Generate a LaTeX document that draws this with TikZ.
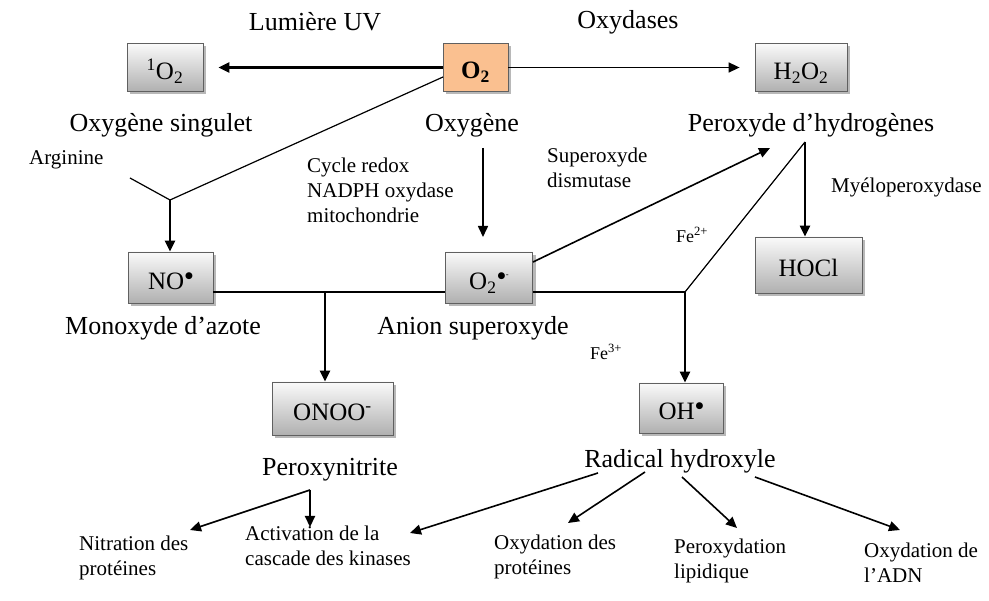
\documentclass[tikz,border=0pt]{standalone}
\usepackage{fontspec}
\setmainfont{Liberation Serif}
\newfontfamily\symfont{DejaVu Sans}
\usetikzlibrary{arrows.meta,shadows}
\definecolor{orangebox}{HTML}{FAC090}
\newcommand{\rad}{\kern1pt\raisebox{11pt}{\symfont\fontsize{9}{9}\selectfont ●}}
\newcommand{\radm}{\kern1pt\raisebox{11pt}{\symfont\fontsize{9}{9}\selectfont ●\kern0.5pt\raisebox{0.5pt}{\fontsize{8}{8}\selectfont -}}}
\begin{document}
\begin{tikzpicture}[x=1pt,y=-1pt,
  box/.style={draw=gray!75!black, line width=0.8pt, top color=gray!4, bottom color=gray!62,
    drop shadow={shadow xshift=3pt, shadow yshift=-3pt, fill=gray!70, opacity=0.8},
    inner sep=0pt, text height=24pt, text depth=0pt, font=\fontsize{25}{28}\selectfont},
  obox/.style={draw=gray!75!black, line width=0.8pt, fill=orangebox,
    drop shadow={shadow xshift=3pt, shadow yshift=-3pt, fill=gray!70, opacity=0.8},
    inner sep=0pt, text height=23pt, text depth=0pt, font=\fontsize{25}{28}\selectfont\bfseries},
  big/.style={font=\fontsize{26}{30}\selectfont, inner sep=0pt},
  small/.style={font=\fontsize{21}{25}\selectfont, inner sep=0pt, align=left},
  tiny/.style={font=\fontsize{18}{20}\selectfont, inner sep=0pt},
  thickarrow/.style={line width=2.2pt, -{Triangle[length=11pt,width=10pt]}},
  thinarrow/.style={line width=1.6pt, -{Triangle[length=11pt,width=10pt]}},
  thinline/.style={line width=1.2pt}
]
\useasboundingbox (0,0) rectangle (989,601);

% boxes
\node[box, minimum width=76pt, minimum height=48pt] (o1) at (165,67.5) {\textsuperscript{1}O\textsubscript{2}};
\node[obox, minimum width=65pt, minimum height=48pt] (o2) at (475.5,67.5) {O\textsubscript{2}};
\node[box, minimum width=92pt, minimum height=48pt] (h2o2) at (801,67.5) {H\textsubscript{2}O\textsubscript{2}};
\node[box, minimum width=85pt, minimum height=51pt] (no) at (170.5,277.5) {NO\rad};
\node[box, minimum width=87pt, minimum height=51pt] (sup) at (489,277.5) {O\textsubscript{2}\radm};
\node[box, minimum width=107pt, minimum height=56pt] (hocl) at (808.5,265) {HOCl};
\node[box, minimum width=121pt, minimum height=53pt] (onoo) at (332.5,408.5) {ONOO\textsuperscript{-}};
\node[box, minimum width=84pt, minimum height=50pt] (oh) at (681,408) {OH\rad};

% labels
\node[big] (lbUV) at (315,22) {Lumière UV};
\node[big] (lbOxd) at (628,22) {Oxydases};
\node[big] (lbSing) at (161,125) {Oxygène singulet};
\node[big] (lbOxy) at (472,125) {Oxygène};
\node[big] (lbPer) at (811,125) {Peroxyde d’hydrogènes};
\node[small, anchor=west] (lbArg) at (29,160) {Arginine};
\node[small, anchor=north west] (lbCyc) at (307,158) {Cycle redox\\NADPH oxydase\\mitochondrie};
\node[small, anchor=north west] (lbSod) at (547,148) {Superoxyde\\dismutase};
\node[small, anchor=west] (lbMye) at (831,187) {Myéloperoxydase};
\node[tiny] (lbFe2) at (692,235) {Fe\textsuperscript{2+}};
\node[tiny] (lbFe3) at (606,352) {Fe\textsuperscript{3+}};
\node[big] (lbMon) at (163,328) {Monoxyde d’azote};
\node[big] (lbAni) at (473,328) {Anion superoxyde};
\node[big] (lbPxn) at (330,470) {Peroxynitrite};
\node[big] (lbRad) at (680,461) {Radical hydroxyle};
\node[small, anchor=north west] (lbNit) at (79,536) {Nitration des\\protéines};
\node[small, anchor=north west] (lbAct) at (245,526) {Activation de la\\cascade des kinases};
\node[small, anchor=north west] (lbOxp) at (494,535) {Oxydation des\\protéines};
\node[small, anchor=north west] (lbLip) at (674,539) {Peroxydation\\lipidique};
\node[small, anchor=north west] (lbAdn) at (864,543) {Oxydation de\\l’ADN};

% coordinates
\coordinate (jArg) at (170,200);
\coordinate (argEnd) at (130,178);
\coordinate (o2Foot) at (443,77);
\coordinate (oxyTop) at (483,148);
\coordinate (oxyTip) at (483,237);
\coordinate (sodStart) at (533,262);
\coordinate (sodTip) at (770,148);
\coordinate (jH) at (805,142);
\coordinate (jNO) at (325,292);
\coordinate (jFe) at (685,292);
\coordinate (jP) at (310,490);
\coordinate (nitTip) at (190,530);
\coordinate (actTip) at (310,527);
\coordinate (r1) at (598,473);
\coordinate (r1Tip) at (410,533);
\coordinate (r2) at (645,472);
\coordinate (r2Tip) at (568,523);
\coordinate (r3) at (682,477);
\coordinate (r3Tip) at (737,528);
\coordinate (r4) at (755,477);
\coordinate (r4Tip) at (900,530);

% connectors
\draw[thickarrow, shorten >=15pt] (o2.west) -- (o1.east);
\draw[thinarrow, shorten >=15pt] (o2.east) -- (h2o2.west);
\draw[thinline] (o2Foot) -- (jArg) -- (argEnd);
\draw[thickarrow] (jArg) -- (jArg |- no.north);
\draw[thinarrow] (oxyTop) -- (oxyTip);
\draw[thinarrow] (sodStart) -- (sodTip);
\draw[thickarrow] (jH) -- (jH |- hocl.north);
\draw[thinline] (jH) -- (jFe);
\draw[thinline] (no.east |- jNO) -- (sup.west |- jNO);
\draw[thinline] (sup.east |- jFe) -- (jFe);
\draw[thickarrow] (jNO) -- (jNO |- onoo.north);
\draw[thickarrow] (jFe) -- (jFe |- oh.north);
\draw[thinarrow] (jP) -- (nitTip);
\draw[thickarrow] (jP) -- (actTip);
\draw[thinarrow] (r1) -- (r1Tip);
\draw[thinarrow] (r2) -- (r2Tip);
\draw[thinarrow] (r3) -- (r3Tip);
\draw[thinarrow] (r4) -- (r4Tip);
\end{tikzpicture}
\end{document}
